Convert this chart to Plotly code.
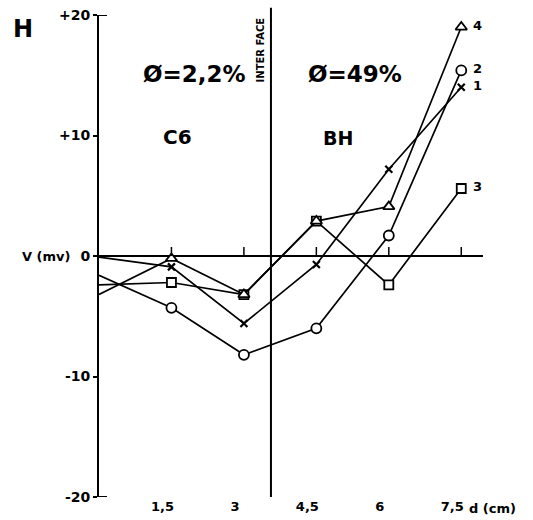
import plotly.graph_objects as go

# Depth (cm) of each measurement
depth = [0, 1.5, 3, 4.5, 6, 7.5]

# Potential V (mV) for the four profiles
v1 = [-0.1, -0.9, -5.6, -0.7, 7.2, 14.0]
v2 = [-1.6, -4.3, -8.2, -6.0, 1.7, 15.4]
v3 = [-2.4, -2.2, -3.2, 2.9, -2.4, 5.6]
v4 = [-3.2, -0.2, -3.2, 2.9, 4.1, 19.0]

series_names = ["1", "2", "3", "4"]
x_ticks = [1.5, 3, 4.5, 6, 7.5]
x_tick_text = ["1,5", "3", "4,5", "6", "7,5"]
y_ticks = [-20, -10, 0, 10, 20]
y_tick_text = ["-20", "-10", "0", "+10", "+20"]
interface_depth = 3.56

INK = "#000000"
FONT = "DejaVu Sans"

# no symbol where a profile meets the vertical axis
shown = [0] + [1] * (len(depth) - 1)

fig = go.Figure()

styles = [
    (v1, dict(symbol="x-thin", size=7, color=INK, line=dict(color=INK, width=2.2))),
    (v2, dict(symbol="circle", size=10, color="white", line=dict(color=INK, width=1.8))),
    (v3, dict(symbol="square", size=9, color="white", line=dict(color=INK, width=1.8))),
    (v4, dict(symbol="triangle-up", size=10, color="white", line=dict(color=INK, width=1.8))),
]
for name, (vals, mk) in zip(series_names, styles):
    fig.add_trace(go.Scatter(
        x=depth, y=vals, mode="lines+markers", name=name,
        line=dict(color=INK, width=1.7), marker=dict(opacity=shown, **mk),
        cliponaxis=False, showlegend=False,
    ))
    fig.add_annotation(x=depth[-1], y=vals[-1], text="<b>" + name + "</b>", showarrow=False,
                       xshift=16, yshift=2, xanchor="center", yanchor="middle",
                       font=dict(family=FONT, size=13, color=INK))

# small upward ticks on the zero line
for t in x_ticks:
    fig.add_shape(type="line", xref="x", yref="y", x0=t, x1=t, y0=0, y1=9,
                  ysizemode="pixel", yanchor=0, line=dict(color=INK, width=1.5))
# end ticks on the vertical axis at +20 / -20
for t in (20, -20):
    fig.add_shape(type="line", xref="x", yref="y", x0=0, x1=8, y0=t, y1=t,
                  xsizemode="pixel", xanchor=0, line=dict(color=INK, width=2))

# interface line
fig.add_shape(type="line", xref="x", yref="paper", x0=interface_depth, x1=interface_depth,
              y0=0, y1=1.015, line=dict(color=INK, width=2))


def note(text, x, y, size, xref="x", yref="y", **kw):
    fig.add_annotation(text=text, x=x, y=y, xref=xref, yref=yref, showarrow=False,
                       xanchor=kw.pop("xanchor", "center"), yanchor=kw.pop("yanchor", "middle"),
                       font=dict(family=FONT, size=size, color=INK), **kw)


note("<b>H</b>", -0.198, 0.971, 24, xref="paper", yref="paper")
note("<b>Ø=2,2%</b>", 1.98, 15.1, 23)
note("<b>Ø=49%</b>", 5.3, 15.1, 23)
note("<b>C6</b>", 1.63, 9.9, 20)
note("<b>BH</b>", 4.95, 9.8, 19)
note("<b>INTER FACE</b>", interface_depth, 1.0, 10, yref="paper",
     xshift=-10, yshift=0, textangle=-90, yanchor="top")
note("<b>V (mv)</b>", -0.068, 0, 13, xref="paper", xanchor="right")
note("<b>d (cm)</b>", 0.958, 0, 13, xref="paper", yref="paper",
     xanchor="left", yanchor="top", yshift=-2)

fig.update_xaxes(range=[0, 7.95], showgrid=False, showline=False, zeroline=False,
                 automargin=False,
                 tickvals=x_ticks, ticktext=x_tick_text, ticks="", ticklabelshift=-9,
                 ticklabelstandoff=0,
                 tickfont=dict(family=FONT, size=13, color=INK, weight="bold"))
fig.update_yaxes(range=[-20, 20], showgrid=False, showline=True, linecolor=INK, linewidth=2,
                 automargin=False,
                 zeroline=True, zerolinecolor=INK, zerolinewidth=1.6,
                 tickvals=y_ticks, ticktext=y_tick_text, ticks="outside", ticklen=4,
                 tickcolor=INK, tickwidth=1.5,
                 tickfont=dict(family=FONT, size=14, color=INK, weight="bold"))

fig.update_layout(width=533, height=520, margin=dict(l=99, r=50, t=15, b=23),
                  paper_bgcolor="white", plot_bgcolor="white")

fig.write_html("out.html")
